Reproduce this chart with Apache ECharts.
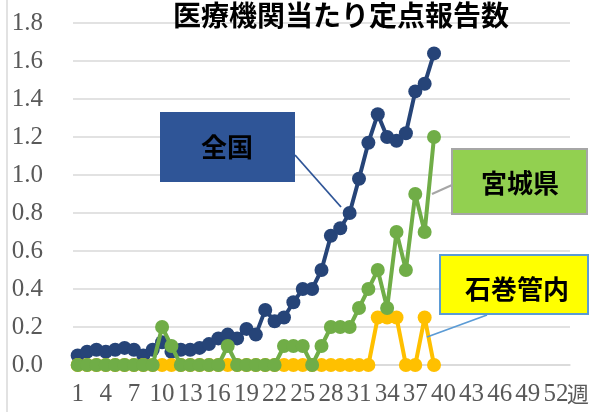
<!DOCTYPE html>
<html>
<head>
<meta charset="utf-8">
<script src="https://cdn.jsdelivr.net/npm/echarts@6/dist/echarts.min.js"></script>
<style>html,body{margin:0;padding:0;background:#fff;}#c{width:590px;height:412px;}</style>
</head>
<body>
<div id="c"></div>
<script>
// Weeks 1..53
const weeks = Array.from({length: 53}, (_, i) => String(i + 1));
const yTicks = [0, 0.2, 0.4, 0.6, 0.8, 1.0, 1.2, 1.4, 1.6, 1.8];
const titleText = '医療機関当たり定点報告数';
const xAxisName = '週';
const seriesNames = ['全国', '宮城県', '石巻管内'];

const national = [0.05,0.07,0.08,0.07,0.08,0.09,0.08,0.05,0.08,0.12,
                  0.07,0.08,0.08,0.09,0.11,0.14,0.16,0.14,0.19,0.16,
                  0.29,0.23,0.25,0.33,0.40,0.40,0.50,0.68,0.72,0.80,
                  0.98,1.17,1.32,1.20,1.18,1.22,1.44,1.48,1.64];
const miyagi = [0,0,0,0,0,0,0,0,0,0.2,
                0.1,0,0,0,0,0,0.1,0,0,0,
                0,0,0.1,0.1,0.1,0,0.1,0.2,0.2,0.2,
                0.3,0.4,0.5,0.3,0.7,0.5,0.9,0.7,1.2];
const ishinomaki = [0,0,0,0,0,0,0,0,0,0,
                    0,0,0,0,0,0,0,0,0,0,
                    0,0,0,0,0,0,0,0,0,0,
                    0,0,0.25,0.25,0.25,0,0,0.25,0];

const chart = echarts.init(document.getElementById('c'), null, {renderer: 'canvas'});
const gridCol = '#d9d9d9';
const labelFont = {fontFamily: 'Liberation Serif', fontSize: 25, color: '#595959'};

function lineSeries(name, data, color, z) {
  return {
    name: name, type: 'line', data: data, z: z,
    symbol: 'circle', symbolSize: 14, showAllSymbol: true,
    itemStyle: {color: color},
    lineStyle: {color: color, width: 4},
    emphasis: {disabled: true}
  };
}

chart.setOption({
  animation: false,
  title: {
    text: titleText, left: 168, top: -4,
    textStyle: {fontFamily: 'Noto Sans CJK JP', fontSize: 28, fontWeight: 'bold', color: '#000'}
  },
  grid: {left: 73, right: 20, top: 23, bottom: 47, containLabel: false, outerBoundsMode: 'none'},
  xAxis: {
    type: 'category', data: weeks, boundaryGap: true,
    axisLine: {lineStyle: {color: gridCol, width: 1.5}},
    axisTick: {show: false},
    axisLabel: Object.assign({interval: 2, margin: 17, hideOverlap: false}, labelFont)
  },
  yAxis: {
    type: 'value', min: 0, max: 1.8, interval: 0.2,
    axisLine: {show: false}, axisTick: {show: false},
    axisLabel: Object.assign({margin: 30, formatter: v => v.toFixed(1)}, labelFont),
    splitLine: {lineStyle: {color: gridCol, width: 1.5}}
  },
  series: [
    lineSeries(seriesNames[0], national, '#264478', 2),
    lineSeries(seriesNames[2], ishinomaki, '#FFC000', 3),
    lineSeries(seriesNames[1], miyagi, '#70AD47', 4)
  ],
  graphic: [
    {type: 'line', shape: {x1: 7, y1: 0, x2: 7, y2: 412}, style: {stroke: gridCol, lineWidth: 1.5}, z: 1},
    {type: 'text', x: 567, y: 394, style: {text: xAxisName, fill: '#595959', font: '22px "Noto Sans CJK JP"', textAlign: 'left', textVerticalAlign: 'middle'}, z: 5},
    // leader lines
    {type: 'line', shape: {x1: 295, y1: 155, x2: 341, y2: 207}, style: {stroke: '#2F5597', lineWidth: 1.8}, z: 10},
    {type: 'line', shape: {x1: 452, y1: 185, x2: 432, y2: 194}, style: {stroke: '#A6A6A6', lineWidth: 2}, z: 10},
    {type: 'line', shape: {x1: 487, y1: 315, x2: 427, y2: 337}, style: {stroke: '#5B9BD5', lineWidth: 1.8}, z: 10},
    // callout boxes
    {type: 'rect', shape: {x: 160, y: 112, width: 135, height: 70}, style: {fill: '#2F5597'}, z: 11},
    {type: 'text', x: 227, y: 147, style: {text: seriesNames[0], fill: '#000', font: 'bold 26px "Noto Sans CJK JP"', textAlign: 'center', textVerticalAlign: 'middle'}, z: 12},
    {type: 'rect', shape: {x: 452, y: 149, width: 135, height: 65}, style: {fill: '#92D050', stroke: '#A6A6A6', lineWidth: 2}, z: 11},
    {type: 'text', x: 520, y: 183, style: {text: seriesNames[1], fill: '#000', font: 'bold 26px "Noto Sans CJK JP"', textAlign: 'center', textVerticalAlign: 'middle'}, z: 12},
    {type: 'rect', shape: {x: 440, y: 255, width: 148, height: 59}, style: {fill: '#FFFF00', stroke: '#5B9BD5', lineWidth: 2}, z: 11},
    {type: 'text', x: 517, y: 289, style: {text: seriesNames[2], fill: '#000', font: 'bold 26px "Noto Sans CJK JP"', textAlign: 'center', textVerticalAlign: 'middle'}, z: 12}
  ]
});
</script>
</body>
</html>
